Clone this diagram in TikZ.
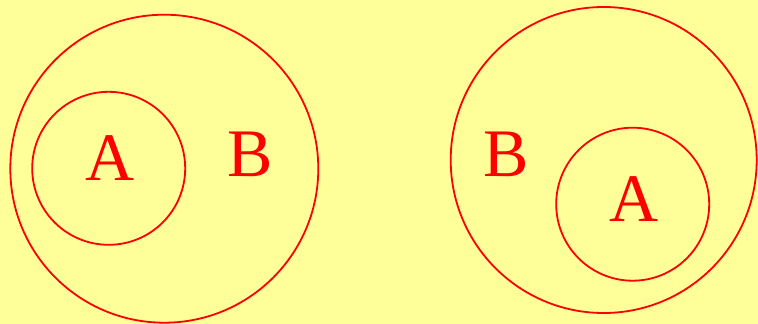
\documentclass[tikz,border=0pt]{standalone}
\usepackage{fontspec}
\setmainfont{Liberation Serif}
\definecolor{bgyellow}{HTML}{FFFF99}
\begin{document}
\begin{tikzpicture}[x=1pt,y=-1pt,
  ring/.style={draw=red,line width=1.8pt,circle,inner sep=0pt},
  lbl/.style={text=red,font=\fontsize{68}{68}\selectfont,inner sep=0pt,anchor=base}]
\fill[bgyellow] (0,0) rectangle (758,324);
\useasboundingbox (0,0) rectangle (758,324);
% left
\node[ring,minimum size=308pt] (LB) at (164.3,168.7) {};
\node[ring,minimum size=153pt] (LA) at (108.7,168.3) {};
\node[lbl] (LAt) at (110.3,180) {A};
\node[lbl] (LBt) at (250.3,176.5) {B};
% right
\node[ring,minimum size=306pt] (RB) at (603.7,160) {};
\node[ring,minimum size=153pt] (RA) at (632.7,204.2) {};
\node[lbl] (RBt) at (506.3,176.5) {B};
\node[lbl] (RAt) at (634.2,221.7) {A};
\end{tikzpicture}
\end{document}
